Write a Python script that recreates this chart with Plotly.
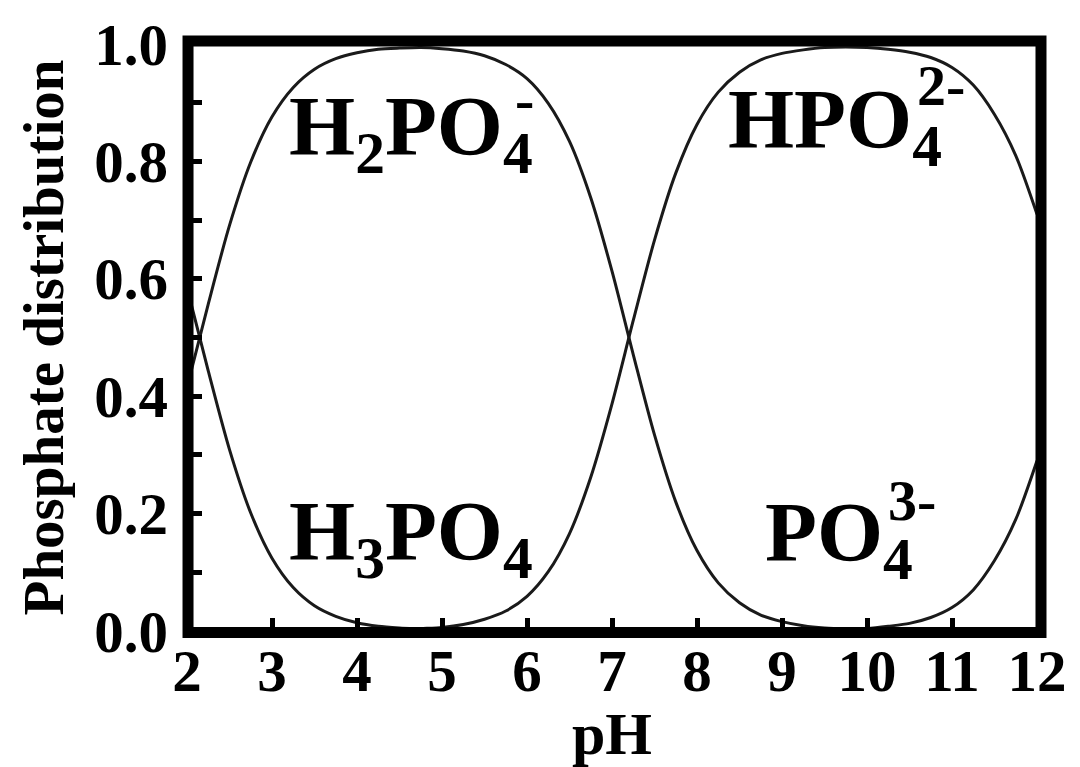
import plotly.graph_objects as go

ph = [2.0, 2.25, 2.5, 2.75, 3.0, 3.25, 3.5, 3.75, 4.0, 4.25, 4.5, 4.75, 5.0, 5.25,
      5.5, 5.75, 6.0, 6.25, 6.5, 6.75, 7.0, 7.25, 7.5, 7.75, 8.0, 8.25, 8.5, 8.75,
      9.0, 9.25, 9.5, 9.75, 10.0, 10.25, 10.5, 10.75, 11.0, 11.25, 11.5, 11.75, 12.0]

h3po4 = [0.585, 0.443, 0.309, 0.201, 0.124, 0.074, 0.043, 0.025, 0.014, 0.008, 0.005,
         0.003, 0.001, 0.001, 0.0, 0.0, 0.0, 0.0, 0.0, 0.0, 0.0, 0.0, 0.0, 0.0, 0.0,
         0.0, 0.0, 0.0, 0.0, 0.0, 0.0, 0.0, 0.0, 0.0, 0.0, 0.0, 0.0, 0.0, 0.0, 0.0, 0.0]

h2po4 = [0.415, 0.557, 0.691, 0.799, 0.876, 0.926, 0.957, 0.975, 0.985, 0.991, 0.993,
         0.994, 0.992, 0.988, 0.980, 0.965, 0.941, 0.899, 0.834, 0.738, 0.613, 0.471,
         0.334, 0.220, 0.137, 0.082, 0.048, 0.027, 0.016, 0.009, 0.005, 0.003, 0.002,
         0.001, 0.001, 0.0, 0.0, 0.0, 0.0, 0.0, 0.0]

hpo4 = [0.0, 0.0, 0.0, 0.0, 0.0, 0.0, 0.0, 0.0, 0.001, 0.001, 0.002, 0.004, 0.006,
        0.011, 0.020, 0.034, 0.059, 0.101, 0.166, 0.262, 0.387, 0.529, 0.666, 0.780,
        0.863, 0.918, 0.952, 0.973, 0.984, 0.990, 0.994, 0.995, 0.994, 0.991, 0.986,
        0.977, 0.960, 0.930, 0.880, 0.810, 0.710]

po4 = [0.0, 0.0, 0.0, 0.0, 0.0, 0.0, 0.0, 0.0, 0.0, 0.0, 0.0, 0.0, 0.0, 0.0, 0.0,
       0.0, 0.0, 0.0, 0.0, 0.0, 0.0, 0.0, 0.0, 0.0, 0.0, 0.0, 0.0, 0.0, 0.0, 0.001,
       0.001, 0.002, 0.004, 0.008, 0.013, 0.023, 0.040, 0.070, 0.120, 0.190, 0.290]

series = [("H3PO4", h3po4), ("H2PO4-", h2po4), ("HPO4 2-", hpo4), ("PO4 3-", po4)]

# species labels: (main text, x, y, charge text, charge x, charge y)
labels = [
    ("H<sub>2</sub>PO<sub>4</sub>", 3.18, 0.85, "-", 5.83, 0.905),
    ("HPO<sub>4</sub>", 8.34, 0.862, "2-", 10.57, 0.930),
    ("H<sub>3</sub>PO<sub>4</sub>", 3.18, 0.159, "", 0, 0),
    ("PO<sub>4</sub>", 8.78, 0.158, "3-", 10.22, 0.223),
]

FONT = "Liberation Serif, Times New Roman, serif"

fig = go.Figure()
for name, vals in series:
    fig.add_trace(go.Scatter(x=ph, y=vals, mode="lines", name=name,
                             line=dict(color="#1a1a1a", width=3, shape="spline", smoothing=0.8),
                             showlegend=False, hoverinfo="skip"))

for txt, x, y, ch, cx, cy in labels:
    fig.add_annotation(x=x, y=y, xref="x", yref="y", text=txt, showarrow=False,
                       xanchor="left", yanchor="middle",
                       font=dict(family=FONT, size=85, color="black", weight="bold"))
    if ch:
        fig.add_annotation(x=cx, y=cy, xref="x", yref="y", text=ch, showarrow=False,
                           xanchor="left", yanchor="middle",
                           font=dict(family=FONT, size=58, color="black", weight="bold"))

fig.add_shape(type="rect", xref="paper", yref="paper", x0=0.0012, x1=1.0047,
              y0=-0.0025, y1=1.005, line=dict(color="black", width=11), layer="above")

tickfont = dict(family=FONT, size=59, color="black", weight="bold")
fig.update_xaxes(range=[2, 12], dtick=1, tick0=2, ticks="inside", ticklen=13, tickwidth=5,
                 tickcolor="black", showgrid=False, zeroline=False, showline=False,
                 tickfont=tickfont, ticklabelstandoff=0,
                 title=dict(text="pH", font=dict(family=FONT, size=60, color="black", weight="bold"),
                            standoff=5))
fig.update_yaxes(range=[0, 1], dtick=0.2, tick0=0, tickformat=".1f", ticks="inside", ticklen=15,
                 tickwidth=5, tickcolor="black", showgrid=False, zeroline=False, showline=False,
                 tickfont=tickfont, ticklabelstandoff=18,
                 minor=dict(dtick=0.1, ticks="inside", ticklen=15, tickwidth=5, tickcolor="black",
                            showgrid=False),
                 title=dict(text="Phosphate distribution",
                            font=dict(family=FONT, size=57, color="black", weight="bold"),
                            standoff=12))

fig.update_layout(width=1080, height=767, margin=dict(l=186.5, r=43, t=41, b=136),
                  paper_bgcolor="white", plot_bgcolor="white")

fig.write_html("out.html")
